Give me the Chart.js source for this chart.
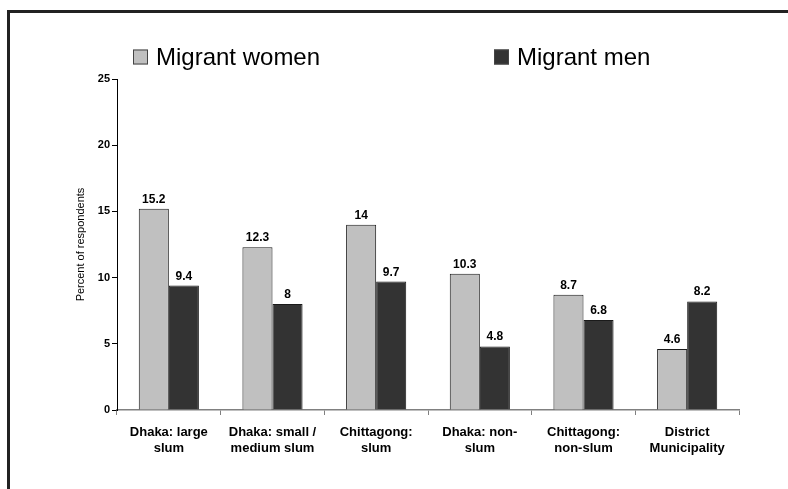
<!DOCTYPE html>
<html>
<head>
<meta charset="utf-8">
<script src="https://cdn.jsdelivr.net/npm/chart.js@4.4.1/dist/chart.umd.min.js"></script>
<style>
    html, body { margin: 0; padding: 0; background: #fff; overflow: hidden; }
    #wrap { position: relative; width: 788px; height: 489px; }
    #frame {
        position: absolute; left: 7px; top: 10px; width: 900px; height: 600px;
        border-top: 3px solid #222; border-left: 3px solid #222;
    }
    #grafico { position: absolute; left: 0; top: 0; }
</style>
</head>
<body>
<div id="wrap">
    <div id="frame"></div>
    <canvas id="grafico" width="788" height="489"></canvas>
</div>
<script>
const categorias = [
    ['Dhaka: large', 'slum'],
    ['Dhaka: small /', 'medium slum'],
    ['Chittagong:', 'slum'],
    ['Dhaka: non-', 'slum'],
    ['Chittagong:', 'non-slum'],
    ['District', 'Municipality']
];
const mulheres = [15.2, 12.3, 14, 10.3, 8.7, 4.6];
const homens = [9.4, 8, 9.7, 4.8, 6.8, 8.2];
const nomesSeries = ['Migrant women', 'Migrant men'];

const fonte = '"Liberation Sans", Arial, sans-serif';

// Valores em cima de cada barra
const rotulosValores = {
    id: 'rotulosValores',
    afterDatasetsDraw(chart) {
        const ctx = chart.ctx;
        ctx.save();
        ctx.font = 'bold 12px ' + fonte;
        ctx.fillStyle = '#000';
        ctx.textAlign = 'center';
        ctx.textBaseline = 'alphabetic';
        chart.data.datasets.forEach((ds, i) => {
            chart.getDatasetMeta(i).data.forEach((bar, j) => {
                ctx.fillText(String(ds.data[j]), bar.x, bar.y - 6);
            });
        });
        ctx.restore();
    }
};

// Legenda desenhada a mão, com os dois itens bem separados
const legendaLarga = {
    id: 'legendaLarga',
    afterDraw(chart) {
        const ctx = chart.ctx;
        const area = chart.chartArea;
        const posicoes = [area.left + 16, area.left + 377];
        ctx.save();
        ctx.font = '24px ' + fonte;
        ctx.textBaseline = 'middle';
        ctx.textAlign = 'left';
        chart.data.datasets.forEach((ds, i) => {
            const x = posicoes[i];
            const y = area.top - 22;
            ctx.fillStyle = ds.backgroundColor;
            ctx.fillRect(x, y - 7.5, 15, 15);
            ctx.strokeStyle = '#444';
            ctx.lineWidth = 1;
            ctx.strokeRect(x + 0.5, y - 7, 14, 14);
            ctx.fillStyle = '#000';
            ctx.fillText(ds.label, x + 23, y + 1);
        });
        ctx.restore();
    }
};

const ctx = document.getElementById('grafico').getContext('2d');
new Chart(ctx, {
    type: 'bar',
    data: {
        labels: categorias,
        datasets: [{
            label: nomesSeries[0],
            data: mulheres,
            backgroundColor: '#c0c0c0',
            borderColor: '#1a1a1a',
            borderWidth: 1
        }, {
            label: nomesSeries[1],
            data: homens,
            backgroundColor: '#333333',
            borderColor: '#1a1a1a',
            borderWidth: 1
        }]
    },
    options: {
        responsive: false,
        animation: false,
        layout: { padding: { left: 40, right: 49, top: 79, bottom: 19 } },
        plugins: {
            legend: { display: false },
            tooltip: { enabled: false }
        },
        datasets: {
            bar: { barPercentage: 1, categoryPercentage: 0.58 }
        },
        scales: {
            x: {
                grid: {
                    drawOnChartArea: false,
                    offset: true,
                    tickLength: 5,
                    color: '#808080'
                },
                border: { color: '#808080', width: 1.5 },
                ticks: {
                    color: '#000',
                    padding: 9,
                    maxRotation: 0,
                    autoSkip: false,
                    font: { family: fonte, size: 13, weight: 'bold', lineHeight: 1.27 }
                },
                afterFit(scale) { scale.height = 60; }
            },
            y: {
                min: 0,
                max: 25,
                ticks: {
                    stepSize: 5,
                    color: '#000',
                    padding: 2,
                    font: { family: fonte, size: 11, weight: 'bold' }
                },
                grid: {
                    drawOnChartArea: false,
                    tickLength: 5,
                    color: '#000'
                },
                border: { color: '#000', width: 1 },
                title: {
                    display: true,
                    text: 'Percent of respondents',
                    color: '#000',
                    padding: { top: 34, bottom: 0 },
                    font: { family: fonte, size: 11 }
                },
                afterFit(scale) { scale.width = 77; }
            }
        }
    },
    plugins: [rotulosValores, legendaLarga]
});
</script>
</body>
</html>
